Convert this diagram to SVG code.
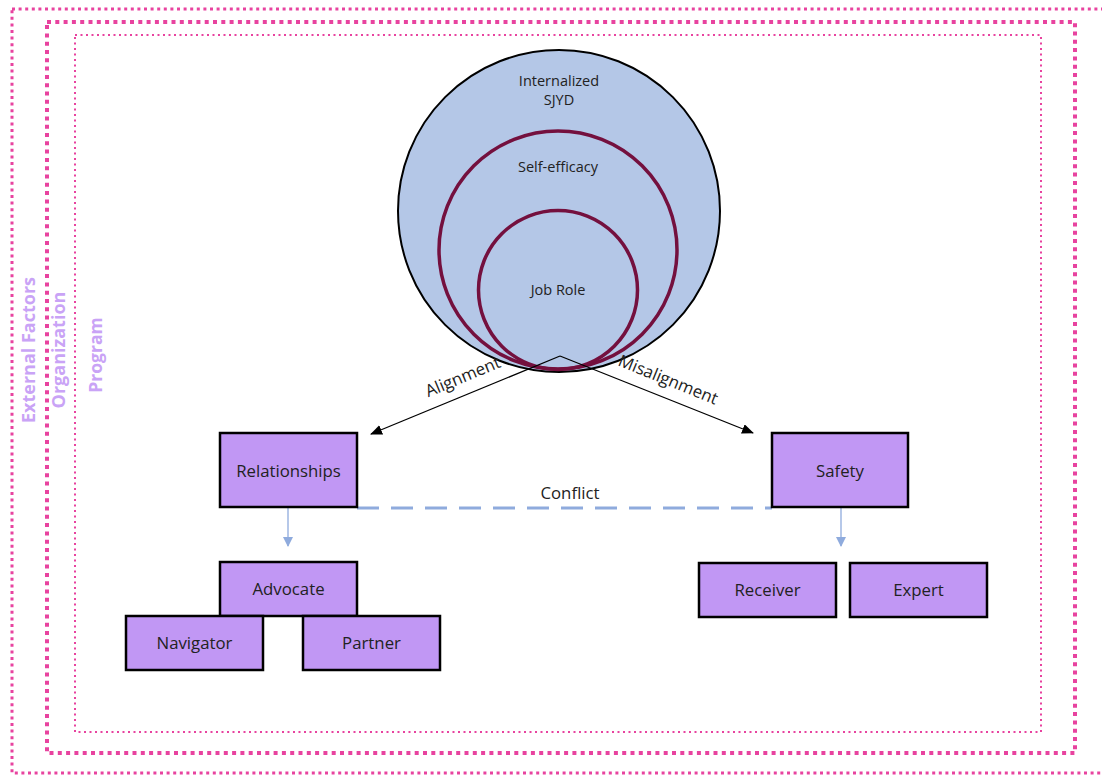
<svg xmlns="http://www.w3.org/2000/svg" width="1102" height="775" viewBox="0 0 1102 775">
<style>
.frame{fill:none;stroke:#e8439f}
.lbl{font-family:"Open Sans","Liberation Sans",sans-serif;font-weight:bold;fill:#c9a3f6;text-anchor:middle}
.box{fill:#c197f4;stroke:#000;stroke-width:2.5}
.t{font-family:"Open Sans","Liberation Sans",sans-serif;font-size:16.8px;fill:#222;text-anchor:middle}
.ct{font-family:"Open Sans","Liberation Sans",sans-serif;font-size:14.5px;fill:#222;text-anchor:middle}
.ring{fill:none;stroke:#74103e;stroke-width:3.5}
</style>
<defs>
<marker id="ab" viewBox="0 0 12 10" refX="11" refY="5" markerWidth="12" markerHeight="10" markerUnits="userSpaceOnUse" orient="auto">
<path d="M0,0 L12,5 L0,10 Z" fill="#000"/>
</marker>
<marker id="al" viewBox="0 0 10 10" refX="9" refY="5" markerWidth="10" markerHeight="10" markerUnits="userSpaceOnUse" orient="auto">
<path d="M0,0 L10,5 L0,10 Z" fill="#8fabdd"/>
</marker>
</defs>
<rect width="1102" height="775" fill="#fff"/>
<g id="frames">
<rect class="frame" x="12" y="9" width="1096" height="764" stroke-width="3" stroke-dasharray="3 3.6"/>
<rect class="frame" x="47" y="22" width="1028" height="731" stroke-width="4" stroke-dasharray="4 4.3"/>
<rect class="frame" x="75" y="35" width="966" height="697" stroke-width="2" stroke-dasharray="2 3.5"/>
<text class="lbl" font-size="18" transform="translate(35,350) rotate(-90)">External Factors</text>
<text class="lbl" font-size="18" transform="translate(65,350) rotate(-90)">Organization</text>
<text class="lbl" font-size="17.5" transform="translate(102,355) rotate(-90)">Program</text>
</g>
<g id="circles">
<circle cx="559" cy="211" r="161" fill="#b4c7e7" stroke="#000" stroke-width="2"/>
<circle class="ring" cx="558" cy="250" r="119"/>
<circle class="ring" cx="558" cy="290" r="79.5"/>
<text class="ct" x="559" y="86">Internalized</text>
<text class="ct" x="559" y="105">SJYD</text>
<text class="ct" x="558" y="172">Self-efficacy</text>
<text class="ct" x="558" y="295">Job Role</text>
</g>
<g id="connectors">
<line x1="560" y1="356" x2="371" y2="434" stroke="#000" stroke-width="1.3" marker-end="url(#ab)"/>
<line x1="560" y1="356" x2="753" y2="433" stroke="#000" stroke-width="1.3" marker-end="url(#ab)"/>
<line x1="357" y1="508" x2="772" y2="508" stroke="#8fabdd" stroke-width="3" stroke-dasharray="22 12"/>
<line x1="288" y1="507" x2="288" y2="546" stroke="#8fabdd" stroke-width="1.3" marker-end="url(#al)"/>
<line x1="841" y1="507" x2="841" y2="546" stroke="#8fabdd" stroke-width="1.3" marker-end="url(#al)"/>
<text class="t" font-size="18" transform="translate(465,382) rotate(-22.5)">Alignment</text>
<text class="t" font-size="18" transform="translate(666,385) rotate(22)">Misalignment</text>
<text class="t" font-size="18.5" x="570" y="499">Conflict</text>
</g>
<g id="relationships"><rect class="box" x="220" y="433" width="137" height="74"/><text class="t" x="288.5" y="477">Relationships</text></g>
<g id="safety"><rect class="box" x="772" y="433" width="136" height="74"/><text class="t" x="840" y="477">Safety</text></g>
<g id="advocate"><rect class="box" x="220" y="562" width="137" height="54"/><text class="t" x="288.5" y="595">Advocate</text></g>
<g id="navigator"><rect class="box" x="126" y="616" width="137" height="54"/><text class="t" x="194.5" y="649">Navigator</text></g>
<g id="partner"><rect class="box" x="303" y="616" width="137" height="54"/><text class="t" x="371.5" y="649">Partner</text></g>
<g id="receiver"><rect class="box" x="699" y="563" width="137" height="54"/><text class="t" x="767.5" y="596">Receiver</text></g>
<g id="expert"><rect class="box" x="850" y="563" width="137" height="54"/><text class="t" x="918.5" y="596">Expert</text></g>
</svg>
